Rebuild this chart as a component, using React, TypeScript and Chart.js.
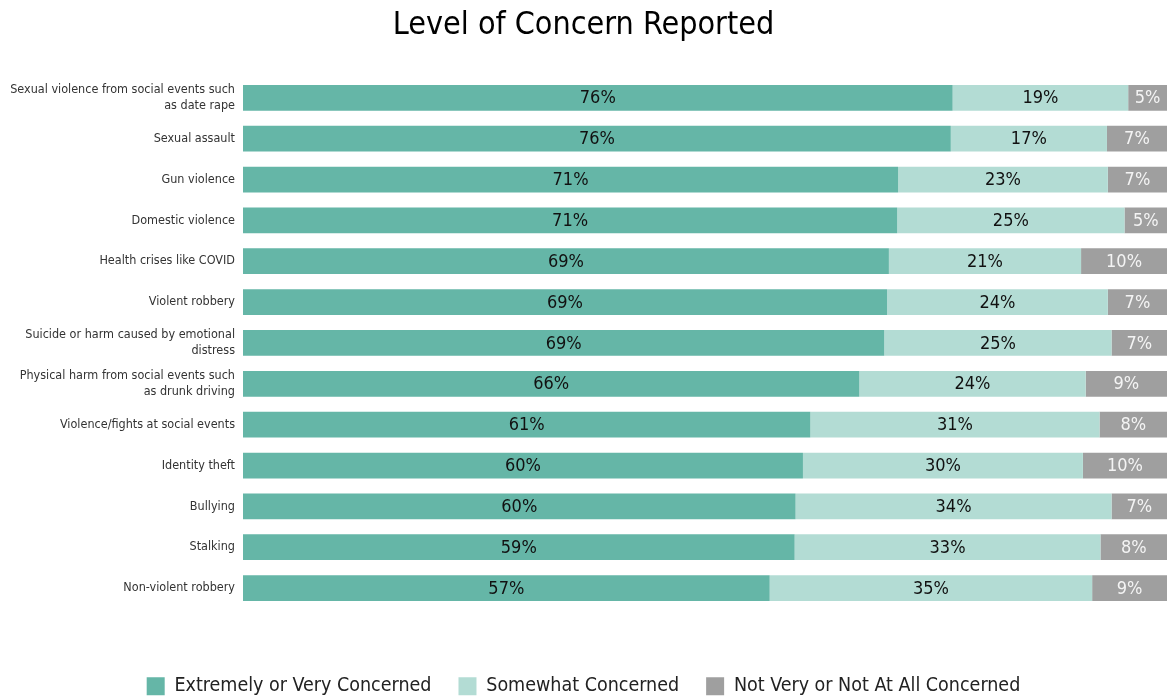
import React, { useEffect, useRef } from "react";
import { Chart, registerables } from "chart.js";

Chart.register(...registerables);

const categories: (string | string[])[] = [
  ["Sexual violence from social events such", "as date rape"],
  "Sexual assault",
  "Gun violence",
  "Domestic violence",
  "Health crises like COVID",
  "Violent robbery",
  ["Suicide or harm caused by emotional", "distress"],
  ["Physical harm from social events such", "as drunk driving"],
  "Violence/fights at social events",
  "Identity theft",
  "Bullying",
  "Stalking",
  "Non-violent robbery",
];

const seriesNames = [
  "Extremely or Very Concerned",
  "Somewhat Concerned",
  "Not Very or Not At All Concerned",
];

const extremelyValues = [76.8, 76.6, 70.9, 70.8, 69.9, 69.7, 69.4, 66.7, 61.4, 60.6, 59.8, 59.7, 57.0];
const somewhatValues = [19.0, 16.9, 22.7, 24.6, 20.8, 23.9, 24.6, 24.5, 31.3, 30.3, 34.2, 33.1, 34.9];
const notValues = [4.2, 6.5, 6.4, 4.6, 9.3, 6.4, 6.0, 8.8, 7.3, 9.1, 6.0, 7.2, 8.1];

const extremelyLabels = [76, 76, 71, 71, 69, 69, 69, 66, 61, 60, 60, 59, 57];
const somewhatLabels = [19, 17, 23, 25, 21, 24, 25, 24, 31, 30, 34, 33, 35];
const notLabels = [5, 7, 7, 5, 10, 7, 7, 9, 8, 10, 7, 8, 9];

const FONT = '"DejaVu Sans Condensed", "DejaVu Sans", sans-serif';

export default function App() {
  const canvasRef = useRef<HTMLCanvasElement | null>(null);

  useEffect(() => {
    if (!canvasRef.current) return;
    const labelSets = [extremelyLabels, somewhatLabels, notLabels];
    const labelColors = ["#111111", "#111111", "#f4f4f4"];

    const barLabels = {
      id: "barLabels",
      afterDatasetsDraw(chart: any) {
        const ctx = chart.ctx;
        ctx.save();
        ctx.font = `18px ${FONT}`;
        ctx.textAlign = "center";
        ctx.textBaseline = "middle";
        chart.data.datasets.forEach((_ds: any, di: number) => {
          const meta = chart.getDatasetMeta(di);
          ctx.fillStyle = labelColors[di];
          meta.data.forEach((bar: any, i: number) => {
            const p = bar.getProps(["x", "base", "y"], true);
            ctx.fillText(labelSets[di][i] + "%", (p.x + p.base) / 2, p.y + 1);
          });
        });
        ctx.restore();
      },
    };

    const legendFit = {
      id: "legendFit",
      beforeInit(chart: any) {
        const orig = chart.legend.fit;
        chart.legend.fit = function () {
          orig.bind(chart.legend)();
          this.height -= 10;
        };
      },
    };

    const chart = new Chart(canvasRef.current, {
      type: "bar",
      data: {
        labels: categories,
        datasets: [
          { label: seriesNames[0], data: extremelyValues, backgroundColor: "#65b6a7" },
          { label: seriesNames[1], data: somewhatValues, backgroundColor: "#b3dcd4" },
          { label: seriesNames[2], data: notValues, backgroundColor: "#9f9f9f" },
        ],
      },
      options: {
        indexAxis: "y",
        animation: false,
        responsive: true,
        maintainAspectRatio: false,
        font: { family: FONT },
        layout: { padding: 0 },
        datasets: {
          bar: { categoryPercentage: 1, barPercentage: 0.63, borderWidth: 0 },
        },
        scales: {
          x: {
            stacked: true,
            min: 0,
            max: 100,
            grid: { display: false },
            border: { display: false },
            ticks: { display: false },
            afterFit(scale: any) {
              scale.height = 41;
            },
          },
          y: {
            stacked: true,
            grid: { display: false, drawTicks: false },
            border: { display: false },
            ticks: {
              color: "#333333",
              padding: 8,
              font: { family: FONT, size: 12.5, lineHeight: 1.28 },
            },
            afterFit(scale: any) {
              scale.width = 243;
            },
          },
        },
        plugins: {
          title: {
            display: true,
            text: "Level of Concern Reported",
            color: "#000000",
            font: { family: FONT, size: 32, weight: "normal", lineHeight: 1.2 },
            padding: { top: 6, bottom: 33 },
          },
          legend: {
            position: "bottom",
            labels: {
              color: "#222222",
              font: { family: FONT, size: 19.5 },
              boxWidth: 18,
              boxHeight: 18,
              padding: 27,
            },
          },
          tooltip: { enabled: false },
        },
      },
      plugins: [barLabels, legendFit],
    });
    return () => chart.destroy();
  }, []);

  return (
    <div style={{ position: "absolute", left: 0, top: 0, width: 1167, height: 696 }}>
      <canvas ref={canvasRef} />
    </div>
  );
}
